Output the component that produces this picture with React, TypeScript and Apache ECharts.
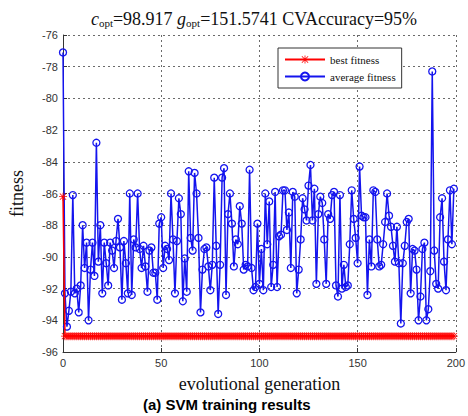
import React, { useEffect, useRef } from "react";
import * as echarts from "echarts";

// Generation index for each recorded value
const generations: number[] = Array.from({ length: 200 }, (_, i) => i);

// Average fitness of the population per generation
const averageFitness: number[] = [
  -77.1, -92.3, -94.4, -93.4, -92.2, -86.1, -92.3, -92.0, -93.5, -91.8,
  -88.0, -90.7, -89.1, -94.0, -90.8, -89.1, -91.2, -82.8, -90.3, -88.0,
  -92.3, -89.1, -90.4, -91.8, -89.1, -89.6, -90.7, -89.0, -87.6, -89.4,
  -92.7, -89.0, -90.4, -92.3, -86.0, -92.4, -88.9, -89.4, -86.0, -89.5,
  -90.7, -89.3, -90.6, -92.2, -89.6, -89.4, -91.0, -91.0, -92.7, -87.9,
  -87.5, -90.7, -89.3, -89.5, -90.2, -86.0, -88.9, -92.3, -89.0, -86.3,
  -87.3, -92.8, -90.1, -92.2, -84.6, -88.8, -89.6, -84.7, -86.0, -88.8,
  -93.5, -90.8, -89.5, -89.4, -90.6, -92.1, -90.5, -85.0, -89.3, -93.6,
  -90.5, -85.0, -84.4, -92.4, -87.3, -86.0, -87.9, -90.6, -88.9, -89.2,
  -86.8, -87.9, -90.8, -90.5, -90.6, -84.5, -90.7, -92.1, -91.9, -87.9,
  -91.7, -89.5, -92.1, -86.0, -89.2, -86.5, -91.9, -90.5, -85.9, -91.9,
  -88.7, -88.6, -85.8, -85.8, -88.3, -87.2, -90.7, -85.9, -86.2, -92.3,
  -90.8, -88.9, -86.3, -87.0, -87.7, -85.5, -84.2, -87.7, -85.7, -91.7,
  -87.3, -86.2, -86.6, -88.9, -91.7, -87.3, -87.6, -86.1, -85.9, -91.8,
  -92.5, -86.1, -92.0, -90.5, -91.9, -91.8, -89.2, -85.8, -87.6, -88.8,
  -90.4, -84.3, -87.4, -87.5, -87.5, -92.4, -88.9, -90.6, -85.8, -85.9,
  -88.9, -90.6, -90.5, -89.2, -87.8, -86.0, -87.4, -88.1, -89.3, -90.3,
  -88.1, -90.4, -94.2, -90.4, -89.3, -87.8, -87.6, -92.3, -89.5, -89.6,
  -90.8, -94.0, -92.5, -89.5, -89.1, -94.0, -93.3, -90.9, -78.3, -89.6,
  -91.7, -92.0, -87.5, -86.3, -90.3, -92.1, -88.9, -85.8, -89.2, -85.7,
];

// Best fitness per generation: starts at -86.2, then settles at -95
const bestFitness: number[] = generations.map((g) => (g === 0 ? -86.2 : -95));

const xTicks = { min: 0, max: 200, interval: 50 };
const yTicks = { min: -96, max: -76, interval: 2 };

const SERIF = "'Liberation Serif', 'DejaVu Serif', serif";
const SANS = "'Liberation Sans', Arial, sans-serif";

// MATLAB-style asterisk marker
const ASTERISK =
  "path://M4.5 0H5.5V10H4.5ZM0 4.5H10V5.5H0ZM0.7 1.4L1.4 0.7L9.3 8.6L8.6 9.3ZM8.6 0.7L9.3 1.4L1.4 9.3L0.7 8.6Z";

const BLUE = "#1414ee";
const RED = "#ff0000";

export default function App() {
  const ref = useRef<HTMLDivElement>(null);

  useEffect(() => {
    if (!ref.current) return;
    const chart = echarts.init(ref.current, null, { renderer: "svg" });

    const gridLine = {
      show: true,
      lineStyle: { color: "#444", width: 0.8, type: [2, 3] as number[] },
    };

    chart.setOption({
      animation: false,
      backgroundColor: "#fff",
      title: {
        text:
          "{i|c}{s|opt}{n|=98.917 }{i|g}{s|opt}{n|=151.5741 CVAccuracy=95%}",
        left: 249,
        textAlign: "center",
        top: 5,
        textStyle: {
          fontWeight: "normal",
          rich: {
            n: { fontFamily: SERIF, fontSize: 18, fontWeight: "normal", color: "#111" },
            i: {
              fontFamily: SERIF,
              fontSize: 18,
              fontStyle: "italic",
              fontWeight: "normal",
              color: "#111",
            },
            s: {
              fontFamily: SERIF,
              fontSize: 11,
              fontWeight: "normal",
              color: "#111",
              verticalAlign: "bottom",
              padding: [7, 0, 0, 0],
            },
          },
        },
      },
      legend: {
        orient: "vertical",
        left: 278,
        top: 48,
        padding: [6, 6, 6, 6],
        itemGap: 6,
        itemWidth: 40,
        itemHeight: 10,
        backgroundColor: "#fff",
        borderColor: "#333",
        borderWidth: 1,
        borderRadius: 0,
        textStyle: { fontFamily: SERIF, fontSize: 11, color: "#111" },
        data: ["best fitness", "average fitness"],
      },
      grid: { left: 58, right: 9, top: 35, bottom: 64 },
      xAxis: {
        type: "value",
        ...xTicks,
        name: "evolutional generation",
        nameLocation: "middle",
        nameGap: 23,
        nameTextStyle: { fontFamily: SERIF, fontSize: 18, color: "#111" },
        axisLine: { show: true, lineStyle: { color: "#333", width: 1 } },
        axisTick: { show: true, inside: true, length: 4, lineStyle: { color: "#333" } },
        axisLabel: { fontFamily: SANS, fontSize: 11, color: "#333", margin: 5 },
        splitLine: gridLine,
      },
      yAxis: {
        type: "value",
        ...yTicks,
        name: "fitness",
        nameLocation: "middle",
        nameGap: 37,
        nameTextStyle: { fontFamily: SERIF, fontSize: 18, color: "#111" },
        axisLine: { show: true, lineStyle: { color: "#333", width: 1 } },
        axisTick: { show: true, inside: true, length: 4, lineStyle: { color: "#333" } },
        axisLabel: { fontFamily: SANS, fontSize: 11, color: "#333", margin: 5 },
        splitLine: gridLine,
      },
      graphic: [
        {
          type: "text",
          left: 143,
          top: 397,
          style: {
            text: "(a) SVM training results",
            fontFamily: SANS,
            fontSize: 15,
            fontWeight: "bold",
            fill: "#000",
          },
        },
      ],
      series: [
        {
          name: "average fitness",
          type: "line",
          data: generations.map((g, i) => [g, averageFitness[i]]),
          symbol: "circle",
          symbolSize: 7,
          showAllSymbol: true,
          clip: false,
          lineStyle: { color: BLUE, width: 1.5 },
          itemStyle: { color: "rgba(0,0,0,0)", borderColor: BLUE, borderWidth: 1.3 },
          z: 2,
        },
        {
          name: "best fitness",
          type: "line",
          data: generations.map((g, i) => [g, bestFitness[i]]),
          symbol: ASTERISK,
          symbolSize: 8,
          showAllSymbol: true,
          clip: false,
          lineStyle: { color: RED, width: 1.5 },
          itemStyle: { color: RED },
          z: 3,
        },
      ],
    });

    return () => chart.dispose();
  }, []);

  return (
    <div
      ref={ref}
      style={{ position: "fixed", left: 0, top: 0, width: 468, height: 416 }}
    />
  );
}
